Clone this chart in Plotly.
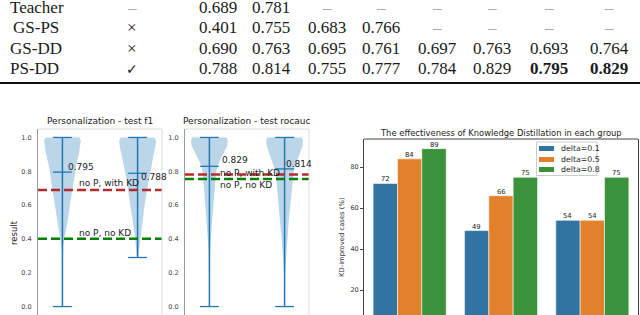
import plotly.graph_objects as go

W, H = 640, 315

# ---------------- data ----------------
# table
methods = ["Teacher", "GS-PS", "GS-DD", "PS-DD"]
personalized = ["–", "×", "×", "✓"]
table_values = [
    [0.689, 0.781, None, None, None, None, None, None],
    [0.401, 0.755, 0.683, 0.766, None, None, None, None],
    [0.690, 0.763, 0.695, 0.761, 0.697, 0.763, 0.693, 0.764],
    [0.788, 0.814, 0.755, 0.777, 0.784, 0.829, 0.795, 0.829],
]
bold_cells = [(3, 6), (3, 7)]

# violins
violin_titles = ["Personalization - test f1", "Personalization - test rocauc"]
violin_positions = [1, 2]
f1_min = [0.0, 0.29]
f1_max = [1.0, 1.0]
f1_mean = [0.795, 0.788]
rocauc_min = [0.0, 0.0]
rocauc_max = [1.0, 1.0]
rocauc_mean = [0.829, 0.814]
f1_baseline_kd = 0.689      # no P, with KD
f1_baseline_nokd = 0.401    # no P, no KD
roc_baseline_kd = 0.781
roc_baseline_nokd = 0.755

# estimated density profiles (relative)
levels_full = [0.0, 0.1, 0.2, 0.3, 0.35, 0.4, 0.45, 0.5, 0.6, 0.7, 0.8, 0.85, 0.9, 0.95, 0.98, 1.0]
levels_f1_b = [0.29, 0.3, 0.35, 0.4, 0.45, 0.5, 0.6, 0.7, 0.8, 0.85, 0.9, 0.95, 0.98, 1.0]
dens_f1_a = [0.1, 0.15, 0.2, 0.4, 0.8, 1.7, 3.3, 5.0, 7.3, 10.0, 12.3, 14.0, 16.0, 17.5, 18.0, 16.5]
dens_f1_b = [0.6, 0.8, 1.5, 2.3, 3.3, 4.3, 6.7, 9.3, 12.0, 13.5, 15.3, 17.0, 17.5, 16.0]
dens_roc_a = [0.1, 0.15, 0.3, 0.7, 1.0, 1.3, 2.0, 2.7, 4.0, 5.3, 6.7, 9.3, 13.3, 17.7, 18.3, 17.0]
dens_roc_b = [0.1, 0.3, 0.6, 1.7, 2.2, 2.7, 3.3, 4.0, 5.7, 7.3, 9.0, 11.5, 14.7, 17.5, 18.0, 17.0]

# bars
bar_groups = [0, 1, 2]
delta_names = ["delta=0.1", "delta=0.5", "delta=0.8"]
delta_01 = [72, 49, 54]
delta_05 = [84, 66, 54]
delta_08 = [89, 75, 75]
bar_colors = ["#3274a1", "#e1812c", "#3a923a"]

# ---------------- helpers ----------------
def px(x):
    return x / W

def py(y):
    return 1 - y / H

fig = go.Figure()
annotations = []
shapes = []

# ---------------- table ----------------
row_y = [7, 27.5, 48, 68.5]
col_x = [218, 271, 327, 381, 437, 492, 549, 609]
serif = "Liberation Serif"
ink = "#1a1a1a"
for r, name in enumerate(methods):
    annotations.append(dict(x=px(8), y=py(row_y[r]), xref="paper", yref="paper",
                            text=name, showarrow=False, xanchor="left", yanchor="middle",
                            xshift=3 if name == "GS-PS" else 0,
                            font=dict(family=serif, size=17, color=ink)))
    sym = personalized[r]
    annotations.append(dict(x=px(132), y=py(row_y[r]), xref="paper", yref="paper",
                            text=sym, showarrow=False, xanchor="center", yanchor="middle",
                            font=dict(family=serif if sym != "✓" else "DejaVu Sans",
                                      size=17 if sym != "✓" else 14,
                                      color="#aaa" if sym == "–" else ink)))
    for c, v in enumerate(table_values[r]):
        if v is None:
            txt, color = "–", "#aaa"
        else:
            txt = f"{v:.3f}"
            color = ink
            if (r, c) in bold_cells:
                txt = f"<b>{txt}</b>"
        annotations.append(dict(x=px(col_x[c]), y=py(row_y[r]), xref="paper", yref="paper",
                                text=txt, showarrow=False, xanchor="center", yanchor="middle",
                                font=dict(family=serif, size=17, color=color)))
shapes.append(dict(type="line", xref="paper", yref="paper", x0=0, x1=1,
                   y0=py(83), y1=py(83), line=dict(color="#111", width=2)))

# ---------------- violins ----------------
vblue = "#1f77b4"
vfill = "#bcd6e9"
sans = "DejaVu Sans"

panels = [
    dict(xa="x", ya="y", title=violin_titles[0],
         levels=[levels_full, levels_f1_b], dens=[dens_f1_a, dens_f1_b],
         mins=f1_min, maxs=f1_max, means=f1_mean,
         base_kd=f1_baseline_kd, base_nokd=f1_baseline_nokd,
         dom=(38, 162)),
    dict(xa="x2", ya="y2", title=violin_titles[1],
         levels=[levels_full, levels_full], dens=[dens_roc_a, dens_roc_b],
         mins=rocauc_min, maxs=rocauc_max, means=rocauc_mean,
         base_kd=roc_baseline_kd, base_nokd=roc_baseline_nokd,
         dom=(185, 309)),
]

for p in panels:
    for i, pos in enumerate(violin_positions):
        lv = p["levels"][i]
        d = p["dens"][i]
        scale = 0.245 / max(d)
        xs = [pos + v * scale for v in d] + [pos - v * scale for v in reversed(d)]
        ys = list(lv) + list(reversed(lv))
        fig.add_trace(go.Scatter(x=xs, y=ys, xaxis=p["xa"], yaxis=p["ya"], mode="lines",
                                 fill="toself", fillcolor=vfill, line=dict(width=0, color=vfill),
                                 hoverinfo="skip", showlegend=False))
        # min-max line
        fig.add_trace(go.Scatter(x=[pos, pos], y=[p["mins"][i], p["maxs"][i]],
                                 xaxis=p["xa"], yaxis=p["ya"], mode="lines",
                                 line=dict(color=vblue, width=1.5), showlegend=False))
        for val in (p["mins"][i], p["maxs"][i], p["means"][i]):
            fig.add_trace(go.Scatter(x=[pos - 0.125, pos + 0.125], y=[val, val],
                                     xaxis=p["xa"], yaxis=p["ya"], mode="lines",
                                     line=dict(color=vblue, width=1.3), showlegend=False))
    # baselines
    xd = p["xa"] + " domain"
    shapes.append(dict(type="line", xref=xd, yref=p["ya"], x0=0, x1=1,
                       y0=p["base_kd"], y1=p["base_kd"],
                       line=dict(color="#b52a2a", width=2.5, dash="9px,4px")))
    shapes.append(dict(type="line", xref=xd, yref=p["ya"], x0=0, x1=1,
                       y0=p["base_nokd"], y1=p["base_nokd"],
                       line=dict(color="#008000", width=2.5, dash="9px,4px")))
    # frame top/right (light)
    yd = p["ya"] + " domain"
    shapes.append(dict(type="line", xref=xd, yref=yd, x0=0, x1=1, y0=1, y1=1,
                       line=dict(color="#dddddd", width=1)))
    shapes.append(dict(type="line", xref=xd, yref=yd, x0=1, x1=1, y0=0, y1=1,
                       line=dict(color="#dddddd", width=1)))
    # title
    annotations.append(dict(x=px((p["dom"][0] + p["dom"][1]) / 2), y=py(121), xref="paper", yref="paper",
                            text=p["title"], showarrow=False, xanchor="center", yanchor="middle",
                            font=dict(family=sans, size=9, color="#222")))

txtfont = dict(family=sans, size=9, color="#222")
# baseline labels and mean labels (positions measured)
label_specs = [
    ("x", "y", 1.2, f1_baseline_kd + 0.040, "no P, with KD"),
    ("x", "y", 1.2, f1_baseline_nokd + 0.034, "no P, no KD"),
    ("x2", "y2", 1.115, roc_baseline_kd + 0.010, "no P, with KD"),
    ("x2", "y2", 1.115, roc_baseline_nokd - 0.037, "no P, no KD"),
    ("x", "y", 1.053, f1_mean[0] + 0.029, f"{f1_mean[0]:.3f}"),
    ("x", "y", 2.013, f1_mean[1] - 0.021, f"{f1_mean[1]:.3f}"),
    ("x2", "y2", 1.142, rocauc_mean[0] + 0.036, f"{rocauc_mean[0]:.3f}"),
    ("x2", "y2", 1.995, rocauc_mean[1] + 0.027, f"{rocauc_mean[1]:.3f}"),
]
for xa, ya, xv, yv, t in label_specs:
    annotations.append(dict(x=xv, y=yv, xref=xa, yref=ya, text=t, showarrow=False,
                            xanchor="left", yanchor="middle", font=txtfont))

annotations.append(dict(x=px(14), y=py(233), xref="paper", yref="paper", text="result",
                        showarrow=False, textangle=-90, xanchor="center", yanchor="middle",
                        font=dict(family=sans, size=8.5, color="#222")))

# ---------------- bars ----------------
bar_series = [delta_01, delta_05, delta_08]
for k, (name, vals) in enumerate(zip(delta_names, bar_series)):
    fig.add_trace(go.Bar(x=bar_groups, y=vals, name=name, xaxis="x3", yaxis="y3",
                         marker=dict(color=bar_colors[k], line=dict(color="rgba(255,255,255,0.55)", width=1)),
                         offsetgroup=str(k), showlegend=False))
    for g, v in zip(bar_groups, vals):
        annotations.append(dict(x=g + (k - 1) * 0.8 / 3, y=v, xref="x3", yref="y3",
                                text=str(v), showarrow=False, xanchor="center", yanchor="bottom",
                                yshift=-2, font=dict(family=sans, size=6.8, color="#222")))

shapes.append(dict(type="line", xref="x3 domain", yref="y3 domain", x0=0, x1=1, y0=1, y1=1,
                   line=dict(color="#444", width=1)))
annotations.append(dict(x=px(501), y=py(133), xref="paper", yref="paper",
                        text="The effectiveness of Knowledge Distillation in each group",
                        showarrow=False, xanchor="center", yanchor="middle",
                        font=dict(family=sans, size=8.4, color="#222")))
annotations.append(dict(x=px(342), y=py(237), xref="paper", yref="paper",
                        text="KD-improved cases (%)", showarrow=False, textangle=-90,
                        xanchor="center", yanchor="middle",
                        font=dict(family=sans, size=6.8, color="#333")))

# manual legend
shapes.append(dict(type="rect", xref="paper", yref="paper", x0=px(536.5), x1=px(597),
                   y0=py(175.5), y1=py(142), fillcolor="white",
                   line=dict(color="#cccccc", width=1)))
leg_y = [148.5, 159.5, 169.5]
for k, name in enumerate(delta_names):
    shapes.append(dict(type="rect", xref="paper", yref="paper", x0=px(539), x1=px(554),
                       y0=py(leg_y[k] + 2.5), y1=py(leg_y[k] - 2.5),
                       fillcolor=bar_colors[k], line=dict(width=0)))
    annotations.append(dict(x=px(559), y=py(leg_y[k]), xref="paper", yref="paper",
                            text=name, showarrow=False, xanchor="left", yanchor="middle",
                            font=dict(family=sans, size=7.8, color="#222")))

# ---------------- layout ----------------
vy = dict(range=[-0.05, 1.05], tickvals=[0, 0.2, 0.4, 0.6, 0.8, 1.0], tickformat=".1f",
          showline=True, linecolor="#999", linewidth=1, ticks="outside", ticklen=4,
          tickcolor="rgba(0,0,0,0)", tickfont=dict(family=sans, size=6.5, color="#444"),
          showgrid=False, zeroline=False, domain=[0, py(129)])
vx = dict(range=[0.675, 2.325], showticklabels=False, showgrid=False, zeroline=False,
          showline=False, ticks="")

fig.update_layout(
    width=W, height=H, margin=dict(l=0, r=0, t=0, b=0),
    paper_bgcolor="white", plot_bgcolor="white",
    barmode="group", bargap=0.2, bargroupgap=0,
    showlegend=False,
    xaxis=dict(vx, domain=[px(38), px(162)], anchor="y"),
    yaxis=dict(vy, anchor="x"),
    xaxis2=dict(vx, domain=[px(185), px(309)], anchor="y2"),
    yaxis2=dict(vy, anchor="x2"),
    xaxis3=dict(range=[-0.5, 2.5], domain=[px(364), px(638)], anchor="y3",
                showticklabels=False, showgrid=False, zeroline=False, showline=False, ticks=""),
    yaxis3=dict(range=[7.8, 93.7], domain=[0, py(139)], anchor="x3",
                tickvals=[20, 40, 60, 80], showline=True, mirror=True, linecolor="#444",
                linewidth=1, ticks="outside", ticklen=3, tickcolor="#444",
                tickfont=dict(family=sans, size=6.5, color="#333"),
                showgrid=False, zeroline=False),
    annotations=annotations,
    shapes=shapes,
)

fig.write_html("out.html", config={"displayModeBar": False},
               post_script="document.body.style.margin='0';document.body.style.overflow='hidden';")
